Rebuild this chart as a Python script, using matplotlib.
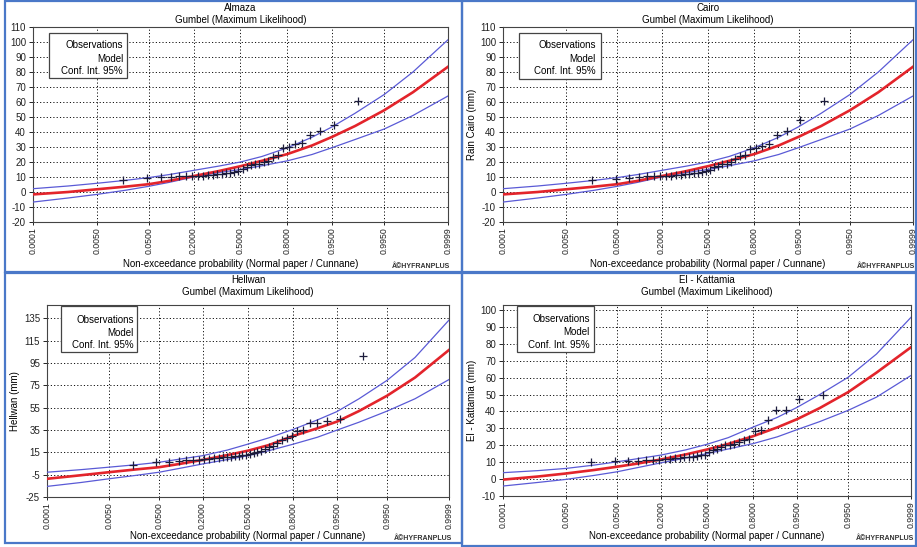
import numpy as np
import matplotlib.pyplot as plt
from matplotlib.patches import Rectangle
from statistics import NormalDist

plt.rcParams['font.family'] = ['Liberation Sans', 'DejaVu Sans']

W, H = 917, 547

curve_p = [0.0001, 0.001, 0.005, 0.02, 0.05, 0.1, 0.2, 0.35, 0.5, 0.65, 0.8,
           0.9, 0.95, 0.98, 0.995, 0.999, 0.9999]

# plotting positions of the observations (n=34 and n=36)
obs_p34 = [0.0175, 0.0468, 0.0760, 0.1053, 0.1345, 0.1637, 0.1930, 0.2222, 0.2515,
           0.2807, 0.3099, 0.3392, 0.3684, 0.3977, 0.4269, 0.4561, 0.4854, 0.5146,
           0.5439, 0.5731, 0.6023, 0.6316, 0.6608, 0.6901, 0.7193, 0.7485, 0.7778,
           0.8070, 0.8363, 0.8655, 0.8947, 0.9240, 0.9532, 0.9825]
obs_p36 = [0.0166, 0.0442, 0.0718, 0.0994, 0.1270, 0.1547, 0.1823, 0.2099, 0.2376,
           0.2652, 0.2928, 0.3204, 0.3481, 0.3757, 0.4033, 0.4309, 0.4586, 0.4862,
           0.5138, 0.5414, 0.5691, 0.5967, 0.6243, 0.6519, 0.6796, 0.7072, 0.7348,
           0.7624, 0.7901, 0.8177, 0.8453, 0.8729, 0.9006, 0.9282, 0.9558, 0.9834]

# Almaza
almaza_obs = [8, 9.5, 10, 10, 10.5, 10.5, 11, 11, 11, 11.5, 11.5, 12, 12, 12.5, 13, 13.5,
              14, 15.5, 17, 18, 18.5, 19, 20, 21, 23.5, 24.5, 29.5, 30, 32, 32.5, 38, 41, 45, 61]
almaza_model = [-1.6, 0.0, 1.8, 3.6, 5.2, 7.4, 10.6, 14.0, 17.2, 20.8, 25.3, 31.0, 36.8, 44.0, 54.5, 66.5, 83.5]
almaza_upper = [2.2, 4.0, 5.8, 7.8, 9.6, 11.6, 14.4, 17.3, 20.0, 23.7, 29.5, 36.5, 43.5, 52.5, 65.0, 80.0, 101.5]
almaza_lower = [-6.7, -4.0, -1.6, 1.2, 3.8, 6.4, 10.0, 13.0, 15.0, 17.5, 20.8, 25.0, 29.6, 35.0, 42.0, 51.0, 64.0]

# Cairo
cairo_obs = [8, 9, 9.6, 10, 10.5, 10.5, 11, 11, 11, 11.5, 11.5, 12, 12, 12.5, 13, 13.5,
             14, 15, 16.5, 17.5, 18.5, 19, 20, 22, 24, 24.5, 29, 29.5, 31, 32, 38, 41, 48, 61]
cairo_model = [-1.6, 0.0, 1.8, 3.6, 5.2, 7.4, 10.6, 14.0, 17.2, 20.8, 25.3, 31.0, 36.8, 44.0, 54.5, 66.5, 83.5]
cairo_upper = [2.2, 4.0, 5.8, 7.8, 9.6, 11.6, 14.4, 17.3, 20.0, 23.7, 29.5, 36.5, 43.5, 52.5, 65.0, 80.0, 101.5]
cairo_lower = [-6.7, -4.0, -1.6, 1.2, 3.8, 6.4, 10.0, 13.0, 15.0, 17.5, 20.8, 25.0, 29.6, 35.0, 42.0, 51.0, 64.0]

# Hellwan
hellwan_obs = [4, 6, 6.7, 7.6, 8.2, 8.5, 8.5, 9, 9, 9.5, 10, 10.5, 11, 11, 11.5, 12, 12.5, 13,
               13.5, 14, 15, 16, 18, 19.5, 21, 23, 26, 28, 29.5, 34, 35, 41, 41, 43, 45, 101]
hellwan_model = [-8.7, -5.5, -2.8, -0.2, 1.7, 4.5, 8.2, 12.5, 16.5, 21.5, 29.8, 36.5, 42.5, 52.0, 65.8, 82.0, 106.7]
hellwan_upper = [-2.8, -0.5, 1.7, 4.0, 6.1, 8.8, 12.0, 17.0, 22.4, 28.0, 35.7, 44.0, 51.5, 63.0, 79.6, 100.0, 133.5]
hellwan_lower = [-15.5, -12.0, -8.7, -5.5, -2.8, 0.5, 4.6, 8.5, 12.0, 16.5, 22.4, 28.5, 34.9, 42.0, 52.0, 63.0, 80.2]

# El - Kattamia
kattamia_obs = [10.2, 10.6, 10.8, 11, 11.2, 11.2, 11.4, 11.6, 12, 12.2, 12.5, 12.8, 13, 13.2,
                13.6, 14, 14.2, 16, 17, 18, 19, 20, 20.4, 21, 22, 23, 23.5, 28.3, 29.3, 35,
                40.7, 41.1, 47.5, 50]
kattamia_model = [-0.3, 1.5, 3.3, 5.4, 7.3, 9.1, 11.6, 14.6, 17.5, 20.8, 25.4, 30.6, 35.5, 42.0, 51.5, 63.0, 78.0]
kattamia_upper = [3.8, 5.0, 6.3, 8.3, 10.2, 12.0, 14.2, 17.3, 20.6, 24.5, 30.8, 36.5, 42.5, 50.0, 60.3, 74.0, 95.7]
kattamia_lower = [-4.1, -2.0, -0.2, 2.2, 4.3, 6.7, 9.6, 12.5, 15.1, 17.8, 21.0, 25.0, 29.3, 34.0, 40.7, 48.5, 61.3]

x_ticks = [0.0001, 0.005, 0.05, 0.2, 0.5, 0.8, 0.95, 0.995, 0.9999]
x_labels = ['0.0001', '0.0050', '0.0500', '0.2000', '0.5000', '0.8000', '0.9500', '0.9950', '0.9999']

_nd = NormalDist()
_ppf = np.vectorize(lambda p: _nd.inv_cdf(min(max(p, 1e-9), 1 - 1e-9)), otypes=[float])
_cdf = np.vectorize(_nd.cdf, otypes=[float])


def fwd(p):
    return _ppf(np.asarray(p, dtype=float))


def inv(z):
    return _cdf(np.asarray(z, dtype=float))


fig = plt.figure(figsize=(W / 100, H / 100), dpi=100)
fig.patch.set_facecolor('white')

RED = '#e3242b'
BLUE = '#5a5ad6'


def panel(ax_box, top, title, ylabel, ylabel_x, ylim, yticks, obs_p, obs_v,
          model, upper, lower, leg_box, leg_lines, leg_right, wm_right):
    l, r, t, b = ax_box
    ax = fig.add_axes([l / W, 1 - b / H, (r - l) / W, (b - t) / H])
    ax.set_xscale('function', functions=(fwd, inv))
    ax.plot(curve_p, upper, color=BLUE, lw=0.9, zorder=3)
    ax.plot(curve_p, lower, color=BLUE, lw=0.9, zorder=3)
    ax.plot(curve_p, model, color=RED, lw=1.9, zorder=4)
    ax.plot(obs_p, obs_v, '+', color='#1c1c3c', ms=6, mew=0.9, zorder=5)
    ax.set_xlim(0.0001, 0.9999)
    ax.set_ylim(*ylim)
    ax.set_xticks(x_ticks)
    ax.set_xticklabels(x_labels, rotation=90, fontsize=6.3, color='#222222')
    ax.xaxis.set_minor_locator(plt.NullLocator())
    ax.set_yticks(yticks)
    ax.set_yticklabels([str(v) for v in yticks], fontsize=7, color='#222222')
    ax.tick_params(axis='y', length=3, width=0.6, pad=2)
    ax.tick_params(axis='x', length=2, width=0.6, pad=1.5)
    ax.grid(True, color='#111111', linestyle=(0, (1.2, 2.2)), lw=0.7)
    for s in ax.spines.values():
        s.set_color('#444444')
        s.set_linewidth(0.8)

    cx = (l + r) / 2
    fig.text(cx / W, 1 - (top + 8) / H, title, ha='center', va='center', fontsize=7)
    fig.text(cx / W, 1 - (top + 20) / H, 'Gumbel (Maximum Likelihood)',
             ha='center', va='center', fontsize=7)
    fig.text(cx / W, 1 - (top + 264) / H,
             'Non-exceedance probability (Normal paper / Cunnane)',
             ha='center', va='center', fontsize=7)
    fig.text(wm_right / W, 1 - (top + 267) / H, 'Â©HYFRANPLUS', ha='right',
             va='center', fontsize=5, fontweight='bold', color='#333333')
    if ylabel:
        fig.text(ylabel_x / W, 1 - (t + b) / 2 / H, ylabel, rotation=90,
                 ha='center', va='center', fontsize=7)

    bx0, bx1, by0, by1 = leg_box
    fig.add_artist(Rectangle((bx0 / W, 1 - by1 / H), (bx1 - bx0) / W, (by1 - by0) / H,
                             transform=fig.transFigure, facecolor='white',
                             edgecolor='#444444', lw=0.9, zorder=5))
    for txt, yy in zip(['Observations', 'Model', 'Conf. Int. 95%'], leg_lines):
        fig.text(leg_right / W, 1 - yy / H, txt, ha='right', va='center',
                 fontsize=7, zorder=6)


panel((33, 448, 27, 222), 0, 'Almaza', None, None, (-20, 110), list(range(-20, 111, 10)),
      obs_p34, almaza_obs, almaza_model, almaza_upper, almaza_lower,
      (49, 127, 33, 78), (45.5, 58.5, 71), 123, 450)
panel((503, 913, 27, 222), 0, 'Cairo', 'Rain Cairo (mm)', 472, (-20, 110),
      list(range(-20, 111, 10)),
      obs_p34, cairo_obs, cairo_model, cairo_upper, cairo_lower,
      (519, 601, 33, 79), (45.5, 58.5, 71), 596, 915)
panel((47, 449, 305, 497), 272, 'Hellwan', 'Hellwan (mm)', 15, (-25, 147),
      list(range(-25, 136, 20)),
      obs_p36, hellwan_obs, hellwan_model, hellwan_upper, hellwan_lower,
      (61, 137, 306, 352), (320, 333, 345), 134, 452)
panel((503, 911, 305, 496), 272, 'El - Kattamia', 'El - Kattamia (mm)', 472, (-10, 103),
      list(range(-10, 101, 10)),
      obs_p34, kattamia_obs, kattamia_model, kattamia_upper, kattamia_lower,
      (517, 594, 306, 352), (319, 332, 345), 590, 914)

# blue window frames around the four panels
for x0, y0, x1, y1 in [(5, 1, 462, 272), (462, 1, 916, 272),
                       (5, 273, 462, 543), (462, 273, 916, 546)]:
    fig.add_artist(Rectangle((x0 / W, 1 - y1 / H), (x1 - x0) / W, (y1 - y0) / H,
                             transform=fig.transFigure, fill=False,
                             edgecolor='#4a78c8', lw=1.6, zorder=10))

fig.savefig('out.png', dpi=100)
